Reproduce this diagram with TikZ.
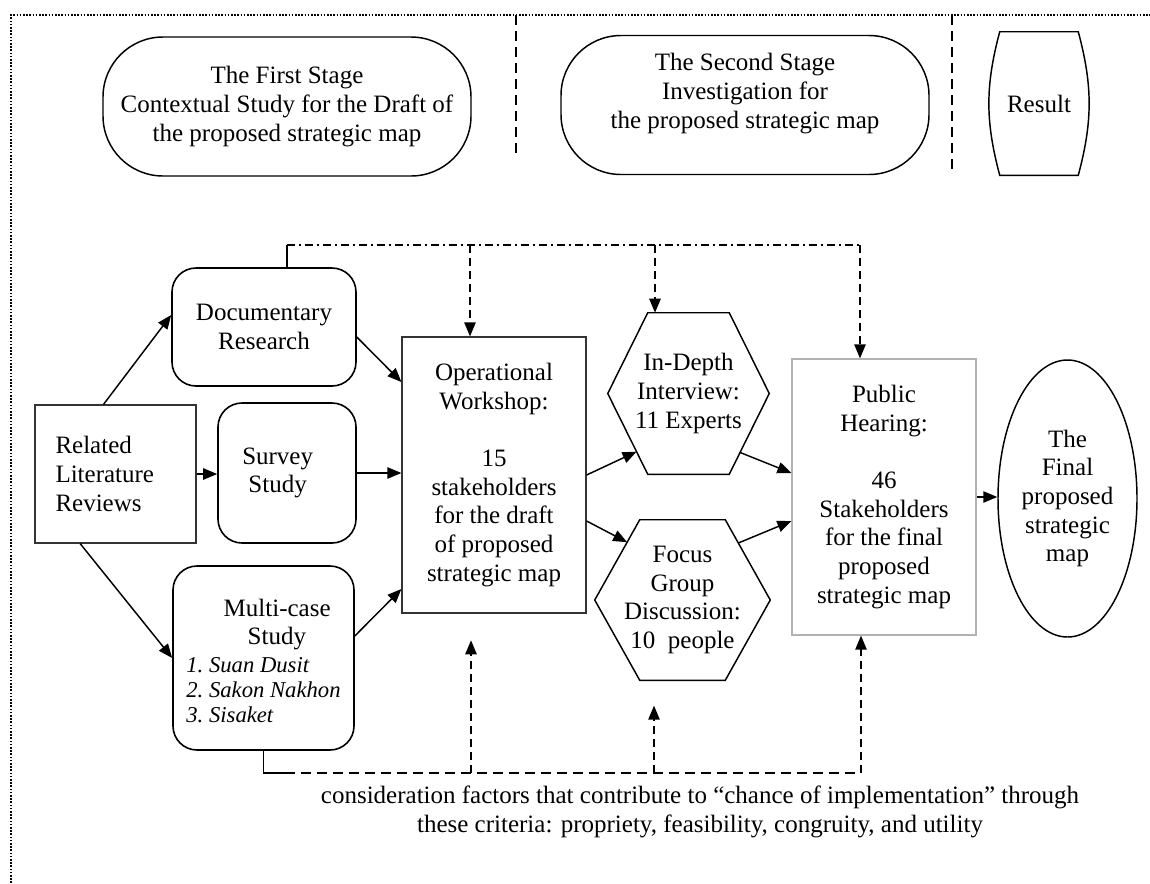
\documentclass[tikz,border=0pt]{standalone}
\usepackage{fontspec}
\setmainfont{Liberation Serif}
\usetikzlibrary{calc,shapes.geometric,arrows.meta}

\newcommand{\casename}[1]{{\fontsize{17}{19}\selectfont\itshape #1}}

\begin{document}
\begin{tikzpicture}[x=0.75pt, y=-0.75pt, font=\fontsize{18.75}{21.5}\selectfont]
    \tikzstyle{every node}=[align=center, inner sep=2pt]
    \tikzstyle{stage}=[draw, line width=1.1pt, rounded corners=45pt, minimum width=276pt, minimum height=104.25pt]
    \tikzstyle{rbox}=[draw, line width=1.2pt, rounded corners=18pt]
    \tikzstyle{sbox}=[draw=black!80, line width=0.9pt]
    \tikzstyle{hexline}=[line width=1.1pt, line join=miter]
    \tikzstyle{arr}=[-{Triangle[length=10.5pt,width=8.5pt]}, line width=1.1pt]
    \tikzstyle{darr}=[arr, dash pattern=on 6pt off 3.75pt]
    \tikzstyle{sepline}=[line width=0.9pt, dash pattern=on 7.5pt off 4.5pt]
    \tikzstyle{dashdot}=[line width=1pt, dash pattern=on 6pt off 3pt on 1.5pt off 3pt]
    \tikzstyle{frame}=[line width=1.3pt, dash pattern=on 1.2pt off 1.2pt]
    \useasboundingbox (0,0) rectangle (1150,883);

    % outer frame and stage separators
    \draw[frame] (11,883) -- (11,15) -- (1150,15);
    \draw[sepline] (516,15) -- (516,153);
    \draw[sepline] (952,15) -- (952,175);

    % stage headers
    \node[stage] (first) at (287,106.5) {The First Stage\\Contextual Study for the Draft of\\the proposed strategic map};
    \node[stage] (second) at (745,105) {The Second Stage\\Investigation for\\the proposed strategic map\\ \mbox{}};
    \node[minimum width=58.5pt, minimum height=107.25pt] (result) at (1039,103.5) {Result};
    \draw[line width=1.1pt] (result.north west) to[bend right=15] (result.south west) -- (result.south east)
        to[bend right=15] (result.north east) -- cycle;

    % first stage
    \node[sbox, minimum width=120.75pt, minimum height=103.5pt, text width=90pt, align=left] (rel) at (115.5,474) {Related\\Literature\\Reviews};
    \node[rbox, minimum width=138pt, minimum height=88.5pt] (doc) at (264,327) {Documentary\\Research};
    \node[rbox, minimum width=103.5pt, minimum height=105pt] (surv) at (287,473) {Survey\hspace*{14pt}\\Study\hspace*{14pt}};
    \node[rbox, minimum width=135.75pt, minimum height=138pt, align=left] (mc) at (263.5,658)
        {\mbox{}\\[-4pt]\hspace*{28pt}Multi-case\\\hspace*{46pt}Study\\[-1pt]\casename{1.\ Suan Dusit}\\[-2.5pt]\casename{2.\ Sakon Nakhon}\\[-2.5pt]\casename{3.\ Sisaket}};
    \node[sbox, minimum width=138pt, minimum height=207pt] (op) at (494,475) {Operational\\Workshop:\\[21.5pt]15\\stakeholders\\for the draft\\of proposed\\strategic map};

    % second stage
    \node[minimum width=120.75pt, minimum height=120.75pt] (ind) at (688.5,393.5) {In-Depth\\Interview:\\11 Experts};
    \draw[hexline] (ind.west) -- ([xshift=30pt]ind.north west) -- ([xshift=-30pt]ind.north east) -- (ind.east)
        -- ([xshift=-30pt]ind.south east) -- ([xshift=30pt]ind.south west) -- cycle;
    \node[minimum width=131.25pt, minimum height=120pt] (foc) at (682.5,600) {Focus\\Group\\Discussion:\\10~~people};
    \draw[hexline] (foc.west) -- ([xshift=33.75pt]foc.north west) -- ([xshift=-33.75pt]foc.north east) -- (foc.east)
        -- ([xshift=-33.75pt]foc.south east) -- ([xshift=33.75pt]foc.south west) -- cycle;
    \node[draw=black!30, line width=0.9pt, minimum width=138pt, minimum height=207pt] (ph) at (884,497) {Public\\Hearing:\\[21.5pt]46\\Stakeholders\\for the final\\proposed\\strategic map};

    % result
    \node[draw, ellipse, line width=1.1pt, minimum width=104.25pt, minimum height=207.75pt] (fin) at (1067.5,498.5) {The\\Final\\proposed\\strategic\\map};

    \node (note) at (700,812) {consideration factors that contribute to “chance of implementation” through\\these criteria: propriety, feasibility, congruity, and utility};

    % solid flow
    \draw[arr] ([xshift=-9pt]rel.north) -- ([yshift=9pt]doc.west);
    \draw[arr] (rel.east) -- (rel.east -| surv.west);
    \draw[arr] ([xshift=-26.5pt]rel.south) -- (mc.west);
    \draw[arr] ([yshift=-7.5pt]doc.east) -- ([yshift=69.75pt]op.west);
    \draw[arr] (surv.east) -- (surv.east -| op.west);
    \draw[arr] ([yshift=16.5pt]mc.east) -- ([yshift=-85.5pt]op.west);
    \draw[arr] (op.east) -- ($(ind.west)!0.72!([xshift=30pt]ind.south west)$);
    \draw[arr] ([yshift=-34.5pt]op.east) -- ($(foc.west)!0.72!([xshift=33.75pt]foc.north west)$);
    \draw[arr] ($(ind.east)!0.73!([xshift=-30pt]ind.south east)$) -- ([yshift=18pt]ph.west);
    \draw[arr] ($(foc.east)!0.71!([xshift=-33.75pt]foc.north east)$) -- ([yshift=-18pt]ph.west);
    \draw[arr] (ph.east) -- (ph.east -| fin.west);

    % feedback lines on top
    \coordinate (tl) at (287,245);
    \coordinate (t1) at (470,245);
    \coordinate (t2) at (655,245);
    \coordinate (tr) at (860,245);
    \draw[line width=1pt] (tl |- doc.north) -- (tl);
    \draw[dashdot] (tl) -- (tr);
    \draw[darr] (t1) -- (t1 |- op.north);
    \draw[darr] (t2) -- (t2 |- ind.north);
    \draw[darr] (tr) -- (tr |- ph.north);

    % feedback lines below
    \coordinate (bl) at (263.5,773);
    \coordinate (bc) at (285,773);
    \coordinate (b1) at (471,773);
    \coordinate (b2) at (654,773);
    \coordinate (br) at (861,773);
    \draw[line width=1pt] (mc.south) -- (bl) -- (bc);
    \draw[line width=1pt, dash pattern=on 7.5pt off 4.5pt] (bc) -- (br);
    \draw[darr, shorten >=20pt] (b1) -- (b1 |- op.south);
    \draw[darr, shorten >=19pt] (b2) -- (b2 |- foc.south);
    \draw[darr] (br) -- (br |- ph.south);
\end{tikzpicture}
\end{document}
